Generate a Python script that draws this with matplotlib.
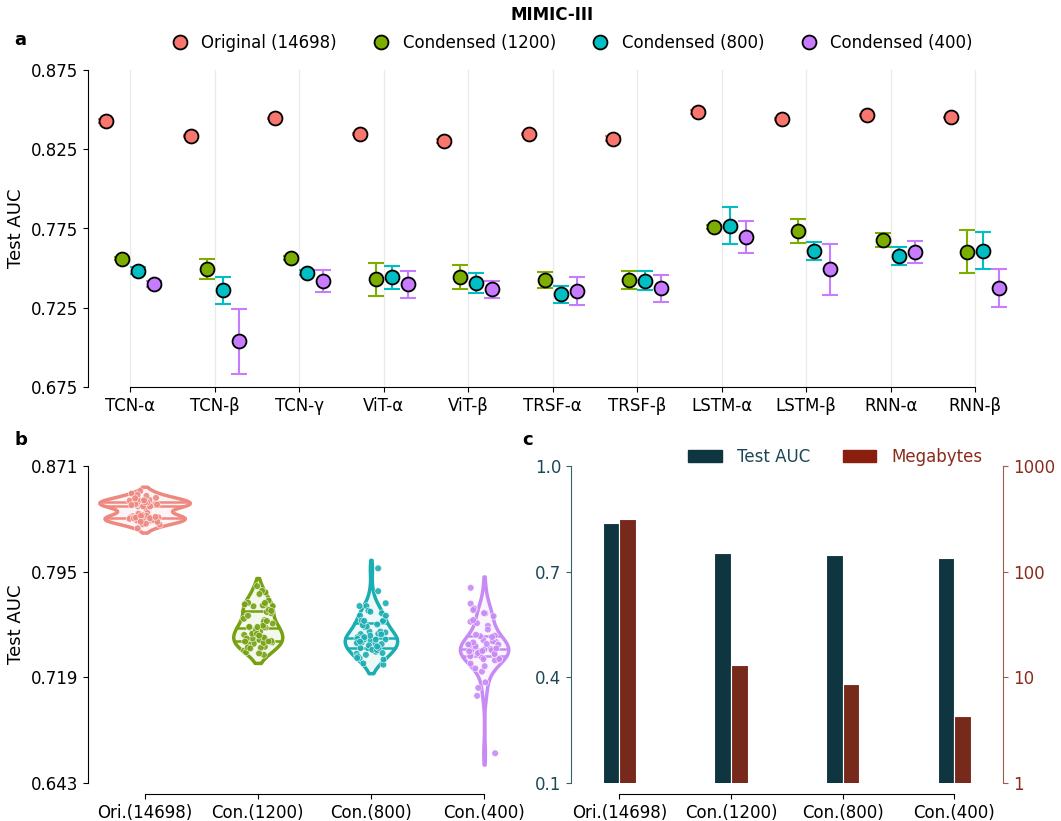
import numpy as np
import pandas as pd
import matplotlib
matplotlib.use("Agg")
import matplotlib.pyplot as plt
import seaborn as sns
from matplotlib.lines import Line2D
from matplotlib.patches import Patch
from matplotlib.collections import PolyCollection
from matplotlib.ticker import NullLocator

plt.rcParams["font.family"] = ["DejaVu Sans"]

# ---- data ----
models = ["TCN-α", "TCN-β", "TCN-γ", "ViT-α", "ViT-β", "TRSF-α", "TRSF-β",
          "LSTM-α", "LSTM-β", "RNN-α", "RNN-β"]
groups = ["Original (14698)", "Condensed (1200)", "Condensed (800)", "Condensed (400)"]
short = ["Ori.(14698)", "Con.(1200)", "Con.(800)", "Con.(400)"]

# panel a: mean test AUC and error per model
orig_mean = [0.8428, 0.8331, 0.8445, 0.8346, 0.8300, 0.8344, 0.8317, 0.8487, 0.8441, 0.8464, 0.8451]
orig_err = [0.0013, 0.0006, 0.0005, 0.0007, 0.0013, 0.0006, 0.0014, 0.0013, 0.0005, 0.0006, 0.0005]
c1200_mean = [0.7560, 0.7497, 0.7564, 0.7429, 0.7444, 0.7423, 0.7427, 0.7761, 0.7736, 0.7679, 0.7604]
c1200_err = [0.0010, 0.0063, 0.0010, 0.0105, 0.0075, 0.0050, 0.0056, 0.0012, 0.0075, 0.0044, 0.0135]
c800_mean = [0.7484, 0.7360, 0.7471, 0.7442, 0.7404, 0.7335, 0.7421, 0.7768, 0.7608, 0.7574, 0.7610]
c800_err = [0.0020, 0.0087, 0.0015, 0.0073, 0.0064, 0.0054, 0.0062, 0.0115, 0.0057, 0.0057, 0.0118]
c400_mean = [0.7398, 0.7040, 0.7419, 0.7398, 0.7366, 0.7356, 0.7373, 0.7696, 0.7492, 0.7604, 0.7375]
c400_err = [0.0019, 0.0205, 0.0068, 0.0084, 0.0054, 0.0086, 0.0084, 0.0099, 0.0160, 0.0070, 0.0121]

# panel b: individual runs
orig_runs = [0.8401, 0.8436, 0.8419, 0.8452, 0.8432, 0.8312, 0.8349, 0.8325, 0.8340, 0.8329,
             0.8461, 0.8428, 0.8447, 0.8470, 0.8419, 0.8371, 0.8330, 0.8352, 0.8318, 0.8359,
             0.8262, 0.8318, 0.8291, 0.8334, 0.8295, 0.8322, 0.8367, 0.8339, 0.8351, 0.8341,
             0.8288, 0.8335, 0.8309, 0.8344, 0.8309, 0.8512, 0.8466, 0.8495, 0.8530, 0.8432,
             0.8423, 0.8462, 0.8440, 0.8455, 0.8425, 0.8481, 0.8447, 0.8470, 0.8502, 0.8420,
             0.8436, 0.8478, 0.8449, 0.8429, 0.8463]
c1200_runs = [0.7512, 0.7601, 0.7548, 0.7589, 0.7550, 0.7431, 0.7562, 0.7470, 0.7518, 0.7504,
              0.7530, 0.7611, 0.7549, 0.7577, 0.7553, 0.7352, 0.7478, 0.7410, 0.7502, 0.7403,
              0.7381, 0.7495, 0.7428, 0.7469, 0.7447, 0.7371, 0.7460, 0.7405, 0.7441, 0.7438,
              0.7362, 0.7475, 0.7398, 0.7452, 0.7448, 0.7709, 0.7846, 0.7742, 0.7801, 0.7707,
              0.7652, 0.7812, 0.7701, 0.7789, 0.7726, 0.7633, 0.7725, 0.7660, 0.7702, 0.7675,
              0.7490, 0.7715, 0.7552, 0.7668, 0.7595]
c800_runs = [0.7452, 0.7519, 0.7470, 0.7501, 0.7478, 0.7281, 0.7432, 0.7329, 0.7398, 0.7360,
             0.7440, 0.7503, 0.7462, 0.7489, 0.7461, 0.7374, 0.7513, 0.7420, 0.7466, 0.7437,
             0.7341, 0.7462, 0.7388, 0.7429, 0.7400, 0.7290, 0.7386, 0.7318, 0.7352, 0.7329,
             0.7365, 0.7479, 0.7402, 0.7447, 0.7412, 0.7651, 0.7974, 0.7702, 0.7810, 0.7703,
             0.7551, 0.7669, 0.7590, 0.7634, 0.7596, 0.7519, 0.7633, 0.7555, 0.7598, 0.7565,
             0.7499, 0.7723, 0.7570, 0.7662, 0.7596]
c400_runs = [0.7352, 0.7445, 0.7380, 0.7420, 0.7393, 0.6644, 0.7114, 0.7057, 0.7231, 0.7154,
             0.7350, 0.7490, 0.7395, 0.7448, 0.7412, 0.7318, 0.7480, 0.7371, 0.7425, 0.7396,
             0.7312, 0.7421, 0.7348, 0.7385, 0.7364, 0.7270, 0.7441, 0.7322, 0.7389, 0.7358,
             0.7289, 0.7457, 0.7342, 0.7398, 0.7379, 0.7590, 0.7834, 0.7650, 0.7720, 0.7686,
             0.7332, 0.7652, 0.7430, 0.7560, 0.7486, 0.7534, 0.7674, 0.7580, 0.7630, 0.7602,
             0.7254, 0.7496, 0.7321, 0.7427, 0.7377]

# panel c
bar_auc = [0.838, 0.753, 0.747, 0.739]
bar_mb = [318, 13.0, 8.7, 4.3]

colors = ["#F8766D", "#7CAE00", "#00BFC4", "#C77CFF"]
vcolors = ["#EE8880", "#76A212", "#1AAEB2", "#C88AF5"]
teal = "#0F3540"
rust = "#77291B"

fig = plt.figure(figsize=(10.61, 8.21), dpi=100)
W, H = 1061, 821


def box(l, t, r, b):
    return [l / W, 1 - b / H, (r - l) / W, (b - t) / H]


# ---------------- panel a ----------------
ax1 = fig.add_axes(box(88, 70, 1017.5, 387))
x = np.arange(len(models))
means = [orig_mean, c1200_mean, c800_mean, c400_mean]
errs = [orig_err, c1200_err, c800_err, c400_err]
offs = (np.arange(4) - 1.5) * 0.19
for k in range(4):
    ax1.errorbar(x + offs[k], means[k], yerr=errs[k], fmt="none", ecolor=colors[k],
                 elinewidth=1.5, capsize=5.5, capthick=1.5, zorder=2)
    ax1.plot(x + offs[k], means[k], "o", ms=10, mfc=colors[k], mec="black", mew=1.3,
             ls="none", zorder=3)
ax1.set_xlim(-0.5, 10.5)
ax1.set_ylim(0.675, 0.875)
ax1.set_yticks([0.675, 0.725, 0.775, 0.825, 0.875])
ax1.set_xticks(x)
ax1.set_xticklabels(models)
ax1.grid(axis="x", color="#ebebeb", lw=1, zorder=0)
ax1.set_axisbelow(True)
ax1.set_ylabel("Test AUC", fontsize=13)
for s in ["top", "right"]:
    ax1.spines[s].set_visible(False)
ax1.spines["bottom"].set_bounds(0, 10)

handles = [Line2D([], [], marker="o", ls="none", ms=10, mfc=c, mec="black", mew=1.3)
           for c in colors]
fig.legend(handles, groups, loc="center", bbox_to_anchor=(568 / W, 1 - 43 / H), ncol=4,
           frameon=False, fontsize=12, handletextpad=0.3, columnspacing=1.65)
fig.text(552 / W, 1 - 15 / H, "MIMIC-III", ha="center", va="center",
         fontsize=12, fontweight="bold")

# ---------------- panel b ----------------
ax2 = fig.add_axes(box(88, 466, 540.7, 783))
runs = [orig_runs, c1200_runs, c800_runs, c400_runs]
df_b = pd.DataFrame({"group": np.repeat(short, [len(r) for r in runs]),
                     "auc": np.concatenate(runs)})
pal = dict(zip(short, vcolors))
sns.violinplot(data=df_b, x="group", y="auc", hue="group", order=short, hue_order=short,
               palette=pal, inner="quart", cut=1, linewidth=2.5, fill=False,
               density_norm="area", common_norm=True, width=0.8, saturation=1,
               legend=False, inner_kws=dict(linewidth=1.8, linestyle="-"), ax=ax2)
for c in ax2.collections:
    if isinstance(c, PolyCollection):
        ec = c.get_edgecolor()
        if len(ec):
            c.set_facecolor((ec[0][0], ec[0][1], ec[0][2], 0.08))
for ln in ax2.lines:
    ln.set_linestyle("-")
np.random.seed(3)
sns.stripplot(data=df_b, x="group", y="auc", hue="group", order=short, hue_order=short,
              palette=pal, jitter=0.14, size=4.8, alpha=0.9, edgecolor="white",
              linewidth=0.4, legend=False, ax=ax2, zorder=4)
ax2.set_xlim(-0.5, 3.5)
ax2.set_ylim(0.643, 0.871)
ax2.set_yticks([0.643, 0.719, 0.795, 0.871])
ax2.set_yticklabels(["0.643", "0.719", "0.795", "0.871"])
ax2.set_xlabel("")
ax2.set_ylabel("Test AUC", fontsize=13)
for s in ["top", "right"]:
    ax2.spines[s].set_visible(False)
ax2.spines["bottom"].set_position(("outward", 8))
ax2.spines["bottom"].set_bounds(0, 3)

# ---------------- panel c ----------------
ax3 = fig.add_axes(box(571, 466, 1003, 783))
ax3r = ax3.twinx()
xc = np.arange(len(short))
bw = 0.15
ax3.bar(xc - bw / 2, bar_auc, width=bw, color=teal, edgecolor="white", lw=0.8)
ax3r.bar(xc + bw / 2, bar_mb, width=bw, color=rust, edgecolor="white", lw=0.8)
ax3.set_xlim(-0.432, 3.435)
ax3.set_ylim(0.1, 1.0)
ax3.set_yticks([0.1, 0.4, 0.7, 1.0])
ax3r.set_yscale("log")
ax3r.set_ylim(1, 1000)
ax3r.set_yticks([1, 10, 100, 1000])
ax3r.set_yticklabels(["1", "10", "100", "1000"])
ax3r.yaxis.set_minor_locator(NullLocator())
ax3.set_xticks(xc)
ax3.set_xticklabels(short)
for a in (ax3, ax3r):
    a.spines["top"].set_visible(False)
ax3.spines["right"].set_visible(False)
ax3r.spines["left"].set_visible(False)
ax3r.spines["bottom"].set_visible(False)
ax3.spines["bottom"].set_position(("outward", 8))
ax3.spines["bottom"].set_bounds(0, 3)
ax3.spines["left"].set_color("#3b5f69")
ax3r.spines["right"].set_color("#a05a4e")
ax3.tick_params(axis="y", colors="#1D4755", labelsize=12)
ax3.tick_params(axis="y", color="#3b5f69")
ax3r.tick_params(axis="y", colors="#8B2B1C", labelsize=12)
ax3r.tick_params(axis="y", color="#a05a4e")
leg = ax3.legend([Patch(color=teal), Patch(color="#8A1F0F")], ["Test AUC", "Megabytes"],
                 loc="center", bbox_to_anchor=(0.612, 1.028), ncol=2, frameon=False,
                 fontsize=12, handletextpad=0.9, columnspacing=2.0)
leg.get_texts()[0].set_color("#1D4755")
leg.get_texts()[1].set_color("#8B2B1C")

for a in (ax1, ax2, ax3):
    a.tick_params(labelsize=12)

fig.text(14 / W, 1 - 40 / H, "a", fontsize=13, fontweight="bold", va="center")
fig.text(14 / W, 1 - 440 / H, "b", fontsize=13, fontweight="bold", va="center")
fig.text(522 / W, 1 - 440 / H, "c", fontsize=13, fontweight="bold", va="center")

fig.savefig("out.png", dpi=100)
